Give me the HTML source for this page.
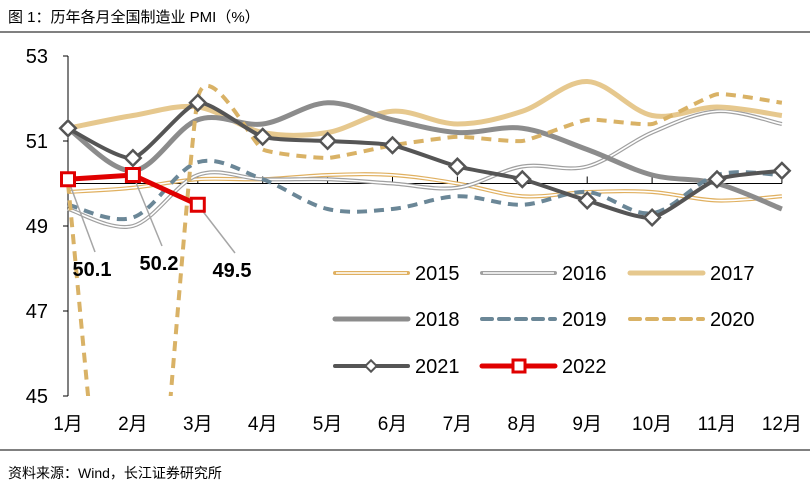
<!DOCTYPE html>
<html><head><meta charset="utf-8"><style>
html,body{margin:0;padding:0;background:#fff;width:810px;height:494px;overflow:hidden;font-family:"Liberation Sans","Noto Sans CJK SC",sans-serif}
svg{display:block}
</style></head><body>
<svg width="810" height="494" xmlns="http://www.w3.org/2000/svg" style="font-family:'Liberation Sans','Noto Sans CJK SC',sans-serif">
<text x="8" y="22" font-size="15" fill="#000">图 1：历年各月全国制造业 PMI（%）</text>
<line x1="0" y1="32" x2="810" y2="32" stroke="#000" stroke-width="1"/>
<line x1="0" y1="450" x2="810" y2="450" stroke="#000" stroke-width="1"/>
<text x="8" y="478" font-size="14" fill="#000">资料来源：Wind，长江证券研究所</text>
<defs><clipPath id="plot"><rect x="60" y="50" width="750" height="346"/></clipPath></defs>
<g id="axes"></g>
<g id="series" clip-path="url(#plot)"></g>
<g id="markers"></g>
<g id="legend"></g>
</svg>
<script>
const months=['1月','2月','3月','4月','5月','6月','7月','8月','9月','10月','11月','12月'];
const yTicks=[45,47,49,51,53];
const years=['2015','2016','2017','2018','2019','2020','2021','2022'];
const s2015=[49.8,49.9,50.1,50.1,50.2,50.2,50.0,49.7,49.8,49.8,49.6,49.7];
const s2016=[49.4,49.0,50.2,50.1,50.1,50.0,49.9,50.4,50.4,51.2,51.7,51.4];
const s2017=[51.3,51.6,51.8,51.2,51.2,51.7,51.4,51.7,52.4,51.6,51.8,51.6];
const s2018=[51.3,50.3,51.5,51.4,51.9,51.5,51.2,51.3,50.8,50.2,50.0,49.4];
const s2019=[49.5,49.2,50.5,50.1,49.4,49.4,49.7,49.5,49.8,49.3,50.2,50.2];
const s2020=[50.0,35.7,52.0,50.8,50.6,50.9,51.1,51.0,51.5,51.4,52.1,51.9];
const s2021=[51.3,50.6,51.9,51.1,51.0,50.9,50.4,50.1,49.6,49.2,50.1,50.3];
const s2022=[50.1,50.2,49.5];
const ns='http://www.w3.org/2000/svg';
const X=i=>68+i*64.9;
const Y=v=>183.5-(v-50)*42.5;
function mk(tag,attrs,parent){const e=document.createElementNS(ns,tag);for(const k in attrs)e.setAttribute(k,attrs[k]);parent.appendChild(e);return e;}
const axes=document.getElementById('axes'),series=document.getElementById('series'),markers=document.getElementById('markers'),legend=document.getElementById('legend');
let yl=mk('line',{x1:68,y1:Y(53),x2:68,y2:Y(45),stroke:'#000','stroke-width':1},axes);


yTicks.forEach(t=>{
  const tk=mk('line',{x1:63,y1:Y(t),x2:68,y2:Y(t),stroke:'#000'},axes);
  
  
  const tx=mk('text',{x:48,y:Y(t)+7,'font-size':20,'text-anchor':'end'},axes);tx.textContent=t;
  
  
});
let xl=mk('line',{x1:68,y1:Y(50),x2:X(11),y2:Y(50),stroke:'#000','stroke-width':1},axes);


months.forEach((m,i)=>{
  const tk=mk('line',{x1:X(i),y1:Y(50),x2:X(i),y2:Y(50)-7,stroke:'#000'},axes);
  
  
  const tx=mk('text',{x:X(i),y:430,'font-size':19,'text-anchor':'middle'},axes);tx.textContent=m;
  
  
});
function smooth(arr,k){
  const p=arr.map((v,i)=>[X(i),Y(v)]);
  let d='M'+p[0][0]+','+p[0][1];
  for(let i=0;i<p.length-1;i++){
    const p0=p[i-1]||p[i],p1=p[i],p2=p[i+1],p3=p[i+2]||p2;
    const c1=[p1[0]+(p2[0]-p0[0])/k,p1[1]+(p2[1]-p0[1])/k];
    const c2=[p2[0]-(p3[0]-p1[0])/k,p2[1]-(p3[1]-p1[1])/k];
    d+=' C'+c1+' '+c2+' '+p2;
  }
  return d;
}
function straight(arr){return arr.map((v,i)=>(i?'L':'M')+X(i)+','+Y(v)).join(' ');}
const styles={
 '2015':{c:'#e0b060',w:4,inner:true},
 '2016':{c:'#a0a0a0',w:4,inner:true},
 '2017':{c:'#e6c88e',w:5},
 '2018':{c:'#8c8c8c',w:5},
 '2019':{c:'#6b8797',w:4,dash:'10,7'},
 '2020':{c:'#d9b266',w:4,dash:'10,7'},
 '2021':{c:'#555555',w:4},
 '2022':{c:'#e00000',w:5}
};
const dataMap={'2015':s2015,'2016':s2016,'2017':s2017,'2018':s2018,'2019':s2019,'2020':s2020,'2021':s2021,'2022':s2022};
years.forEach(y=>{
  const st=styles[y];
  const arr=dataMap[y];
  const d=y==='2022'?straight(arr):smooth(arr,y==='2020'?14:(y==='2021'?10:6));
  const g=mk('g',{},series);
  
  
  const a={d:d,fill:'none',stroke:st.c,'stroke-width':st.w,'stroke-linejoin':'round'};
  if(st.dash)a['stroke-dasharray']=st.dash;
  mk('path',a,g);
  if(st.inner)mk('path',{d:d,fill:'none',stroke:'#fff','stroke-width':1.6},g);
});
const lblPos=[[92,276],[159,270],[232,277]];
s2022.forEach((v,i)=>{
  const ln=mk('line',{x1:X(i),y1:Y(v),x2:lblPos[i][0]+3,y2:lblPos[i][1]-24,stroke:'#a6a6a6','stroke-width':1.5},markers);
  
  
  const t=mk('text',{x:lblPos[i][0],y:lblPos[i][1],'font-size':20,'font-weight':'bold','text-anchor':'middle'},markers);
  t.textContent=v.toFixed(1);
  
  
});
s2021.forEach((v,i)=>{
  const m=mk('rect',{x:X(i)-5.5,y:Y(v)-5.5,width:11,height:11,fill:'#fff',stroke:'#555','stroke-width':2.5,transform:'rotate(45 '+X(i)+' '+Y(v)+')'},markers);
  
  
});
s2022.forEach((v,i)=>{
  const m=mk('rect',{x:X(i)-6.5,y:Y(v)-6.5,width:13,height:13,fill:'#fff',stroke:'#e00000','stroke-width':3},markers);
  
  
});
const colX=[335,482,630],rowY=[273,319,366];
years.forEach((y,k)=>{
  const st=styles[y];const x=colX[k%3],yy=rowY[Math.floor(k/3)];
  const g=mk('g',{},legend);
  
  
  const a={x1:x,y1:yy,x2:x+73,y2:yy,stroke:st.c,'stroke-width':st.w,'stroke-linecap':'round'};
  if(st.dash)a['stroke-dasharray']=st.dash;
  mk('line',a,g);
  if(st.inner)mk('line',{x1:x+1,y1:yy,x2:x+72,y2:yy,stroke:'#fff','stroke-width':1.6},g);
  if(y==='2021')mk('rect',{x:x+32,y:yy-4,width:8,height:8,fill:'#fff',stroke:'#555','stroke-width':2,transform:'rotate(45 '+(x+36)+' '+yy+')'},g);
  if(y==='2022')mk('rect',{x:x+31,y:yy-6,width:12,height:12,fill:'#fff',stroke:'#e00000','stroke-width':3},g);
  const t=mk('text',{x:x+80,y:yy+7,'font-size':20},g);t.textContent=y;
});
</script>
</body></html>
